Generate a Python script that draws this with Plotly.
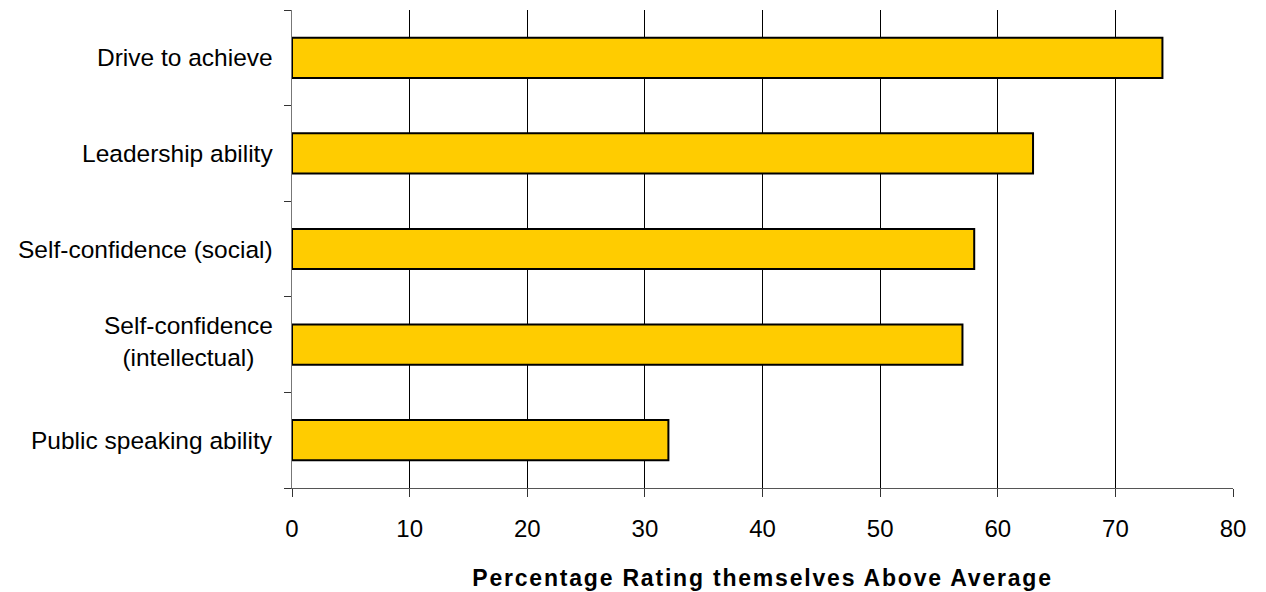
import plotly.graph_objects as go

categories = ["Drive to achieve", "Leadership ability", "Self-confidence (social)",
              "Self-confidence<br>(intellectual)", "Public speaking ability"]
values = [74, 63, 58, 57, 32]
x_ticks = [0, 10, 20, 30, 40, 50, 60, 70, 80]
x_title = "Percentage Rating themselves Above Average"

FONT = "Liberation Sans, Arial, sans-serif"

fig = go.Figure()
fig.add_trace(go.Bar(
    y=categories, x=values, orientation="h",
    marker=dict(color="#FFCC00", line=dict(color="black", width=2)),
    width=0.42,
))

annotations = []
for c in categories:
    annotations.append(dict(
        x=0, xref="paper", y=c, yref="y", text=c, showarrow=False,
        xanchor="right", yanchor="middle", align="center", xshift=-17,
        yshift=3 if "<br>" in c else 0,
        font=dict(family=FONT, size=24.5, color="black"),
    ))

fig.update_layout(
    width=1258, height=584,
    margin=dict(l=284, r=33, t=2, b=104),
    paper_bgcolor="white", plot_bgcolor="white",
    showlegend=False,
    annotations=annotations,
    xaxis=dict(
        range=[0, 80], tickvals=x_ticks, ticktext=[str(t) for t in x_ticks],
        showgrid=True, gridcolor="black", gridwidth=1,
        showline=True, linecolor="#555555", linewidth=1,
        ticks="outside", ticklen=8, tickcolor="#333333",
        ticklabelstandoff=11,
        zeroline=False,
        tickfont=dict(family=FONT, size=24, color="black"),
        title=dict(text='<b><span style="letter-spacing:1.8px">' + x_title + '</span></b>',
                   standoff=29,
                   font=dict(family=FONT, size=23, color="black")),
        fixedrange=True,
    ),
    yaxis=dict(
        categoryorder="array", categoryarray=categories[::-1],
        range=[-0.5, 4.5],
        showticklabels=False,
        showline=True, linecolor="#777777", linewidth=1,
        ticks="outside", ticklen=7, tickcolor="#333333",
        tickson="boundaries", showgrid=False, zeroline=False,
        fixedrange=True,
    ),
)

fig.write_html("out.html")
